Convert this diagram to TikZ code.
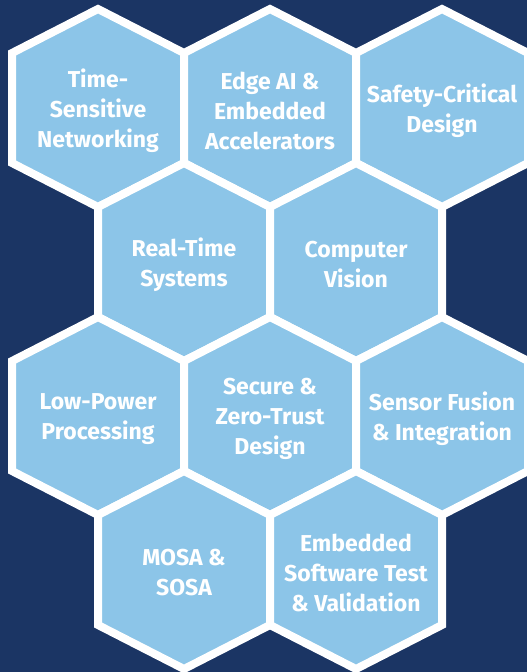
\documentclass[tikz,border=0pt]{standalone}
\usepackage{fontspec}
\setmainfont{Fira Sans}
\usetikzlibrary{positioning,backgrounds}
\definecolor{navyback}{HTML}{1B3564}
\definecolor{hexblue}{HTML}{8CC5E8}
\tikzset{
    hexlabel/.style={text=white, font=\bfseries\fontsize{23}{30}\selectfont, align=center, inner sep=0pt},
    hexcell/.style={fill=hexblue, draw=white, line width=8pt, line join=miter}
}

\begin{document}
\begin{tikzpicture}[node distance=172pt,on grid]
    \useasboundingbox (0,0) rectangle (527pt,-672pt);
    \node[hexlabel] (11) at (98pt,-111pt) {Time-\\Sensitive\\Networking};
    \node[hexlabel] (12) [right =of 11] {Edge AI \&\\Embedded\\Accelerators};
    \node[hexlabel] (13) [right =of 12] {Safety-Critical\\Design};
    \node[hexlabel] (21) [below right =154pt and 86pt of 11] {Real-Time\\Systems};
    \node[hexlabel] (22) [right =of 21] {Computer\\Vision};
    \node[hexlabel] (31) [below left =154pt and 86pt of 21] {Low-Power\\Processing};
    \node[hexlabel] (32) [right =of 31] {Secure \&\\Zero-Trust\\Design};
    \node[hexlabel] (33) [right =of 32] {Sensor Fusion\\\& Integration};
    \node[hexlabel] (41) [below right =154pt and 86pt of 31] {MOSA \&\\SOSA};
    \node[hexlabel] (42) [right =of 41] {Embedded\\Software Test\\\& Validation};
    \begin{scope}[on background layer]
        \clip (0,0) rectangle (527pt,-672pt);
        \fill[navyback] (0,0) rectangle (527pt,-672pt);
        \foreach \n in {11,12,13,21,22,31,32,33,41,42}
            \draw[hexcell] (\n) ++(0,3pt) +(0,99pt) -- +(86pt,55pt) -- +(86pt,-55pt) -- +(0,-99pt) -- +(-86pt,-55pt) -- +(-86pt,55pt) -- cycle;
    \end{scope}
\end{tikzpicture}
\end{document}
